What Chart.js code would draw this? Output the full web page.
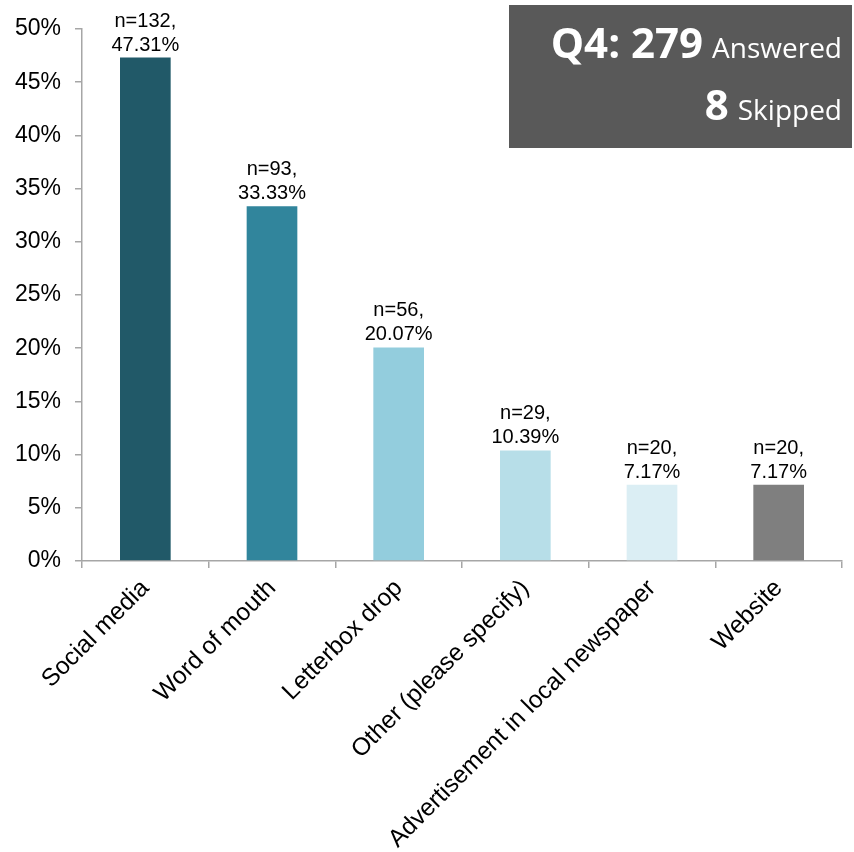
<!DOCTYPE html>
<html lang="en">
<head>
<meta charset="UTF-8">
<title>Q4 - How did you hear about us</title>
<script src="https://cdn.jsdelivr.net/npm/chart.js@4.4.0/dist/chart.umd.min.js"></script>
<style>
  html, body { margin: 0; padding: 0; background: #fff; }
  #chart { display: block; }
</style>
</head>
<body>
<canvas id="chart" width="854" height="852"></canvas>
<script>
// survey answers for Q4
const categories = ['Social media', 'Word of mouth', 'Letterbox drop', 'Other (please specify)', 'Advertisement in local newspaper', 'Website'];
const counts = [132, 93, 56, 29, 20, 20];
const percents = [47.31, 33.33, 20.07, 10.39, 7.17, 7.17];
const barColors = ['#215968', '#31859C', '#93CDDD', '#B7DEE8', '#DBEEF4', '#7F7F7F'];
const question = 'Q4:';
const answered = 279;
const skipped = 8;

const axisGray = '#A6A6A6';

// n=.., xx.xx% above each bar
const barLabels = {
  id: 'barLabels',
  afterDatasetsDraw(chart) {
    const ctx = chart.ctx;
    const meta = chart.getDatasetMeta(0);
    ctx.save();
    ctx.font = '20px "Liberation Sans", Arial, sans-serif';
    ctx.fillStyle = '#000';
    ctx.textAlign = 'center';
    ctx.textBaseline = 'alphabetic';
    meta.data.forEach((bar, i) => {
      ctx.fillText('n=' + counts[i] + ',', bar.x, bar.y - 31);
      ctx.fillText(percents[i].toFixed(2) + '%', bar.x, bar.y - 7);
    });
    ctx.restore();
  }
};

// answered / skipped box in the top right corner
const summaryBox = {
  id: 'summaryBox',
  afterDraw(chart) {
    const ctx = chart.ctx;
    const right = 842;
    ctx.save();
    ctx.fillStyle = '#595959';
    ctx.fillRect(509, 5, 343, 143);
    ctx.fillStyle = '#fff';
    ctx.textAlign = 'right';
    ctx.textBaseline = 'alphabetic';

    const line = (big, small, y) => {
      ctx.font = '28px "Open Sans"';
      ctx.fillText(small, right, y);
      const w = ctx.measureText(small).width;
      ctx.font = 'bold 42px "Open Sans"';
      ctx.fillText(big, right - w - 9, y);
    };
    line(question + ' ' + answered, 'Answered', 58);
    line(String(skipped), 'Skipped', 120);
    ctx.restore();
  }
};

new Chart(document.getElementById('chart'), {
  type: 'bar',
  data: {
    labels: categories,
    datasets: [{
      data: percents,
      backgroundColor: barColors,
      borderWidth: 0,
      barPercentage: 0.4,
      categoryPercentage: 1
    }]
  },
  options: {
    responsive: false,
    devicePixelRatio: 1,
    animation: false,
    layout: { padding: { top: 29, right: 12, left: 0, bottom: 0 } },
    plugins: {
      legend: { display: false },
      tooltip: { enabled: false }
    },
    scales: {
      x: {
        grid: { drawOnChartArea: false, drawTicks: true, tickLength: 7, color: axisGray, lineWidth: 1.5, offset: true },
        border: { color: axisGray, width: 1.5 },
        ticks: {
          autoSkip: false,
          maxRotation: 45,
          minRotation: 45,
          color: '#000',
          padding: 6,
          font: { family: '"Liberation Sans", Arial, sans-serif', size: 24.5 }
        },
        afterFit: s => { s.height = 291; }
      },
      y: {
        min: 0,
        max: 50,
        grid: { drawOnChartArea: false, drawTicks: true, tickLength: 7, color: axisGray, lineWidth: 1.5 },
        border: { color: axisGray, width: 1.5 },
        ticks: {
          stepSize: 5,
          color: '#000',
          padding: 14,
          font: { family: '"Liberation Sans", Arial, sans-serif', size: 23 },
          callback: v => v + '%'
        },
        afterFit: s => { s.width = 82; }
      }
    }
  },
  plugins: [barLabels, summaryBox]
});
</script>
</body>
</html>
